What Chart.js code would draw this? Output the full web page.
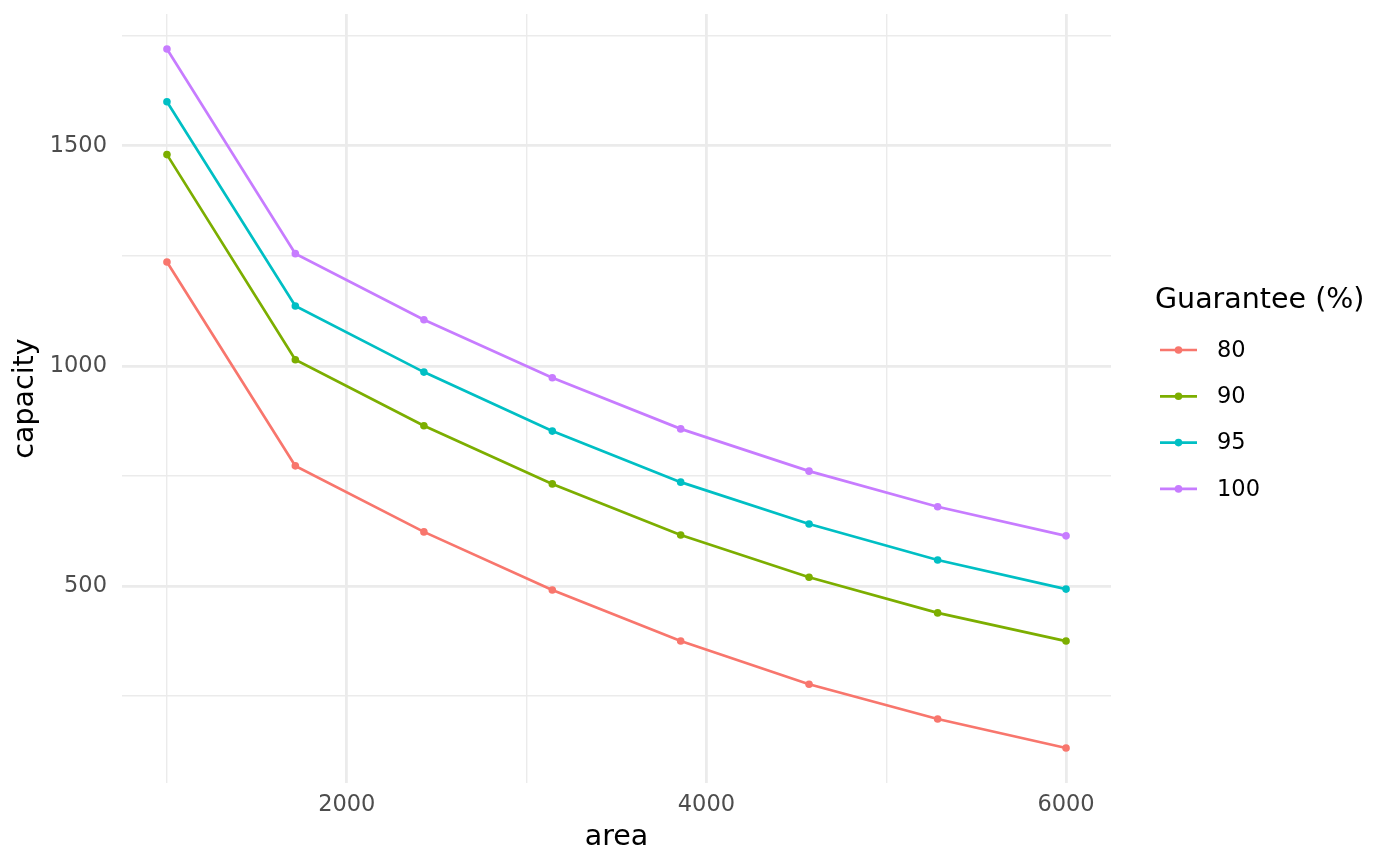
<!DOCTYPE html>
<html>
<head>
<meta charset="utf-8">
<script src="https://cdn.jsdelivr.net/npm/chart.js@4.4.1/dist/chart.umd.min.js"></script>
<style>
    html, body { margin: 0; padding: 0; background: #fff; }
    #chart { display: block; }
</style>
</head>
<body>
<canvas id="chart" width="1400" height="866"></canvas>
<script>
// --- Data ---
const area = [1000, 1714, 2429, 3143, 3857, 4571, 5286, 6000];
const cap80 = [1236, 773, 623, 491, 375, 277, 198, 132];
const cap90 = [1480, 1014, 864, 732, 616, 520, 439, 375];
const cap95 = [1600, 1136, 986, 852, 736, 641, 559, 493];
const cap100 = [1720, 1255, 1105, 973, 857, 761, 680, 614];

const seriesLabels = ['80', '90', '95', '100'];
const seriesColors = ['#F8766D', '#7CAE00', '#00BFC4', '#C77CFF'];

// Grid positions (major ones get a label)
const xTicks = [1000, 2000, 3000, 4000, 5000, 6000];
const xLabels = [2000, 4000, 6000];
const yTicks = [250, 500, 750, 1000, 1250, 1500, 1750];
const yLabels = [500, 1000, 1500];

const FONT = "'DejaVu Sans', sans-serif";
const GRID = '#EBEBEB';
const TICK_SIZE = 22.5;
const TITLE_SIZE = 28.5;

// ggplot-style 5% expansion
const expand = (lo, hi) => {
    const pad = (hi - lo) * 0.05;
    return [lo - pad, hi + pad];
};
const allY = [...cap80, ...cap90, ...cap95, ...cap100];
const [yMin, yMax] = expand(Math.min(...allY), Math.max(...allY));
const [xMin, xMax] = expand(Math.min(...area), Math.max(...area));

const makeSet = (label, values, color) => ({
    label: label,
    data: area.map((a, i) => ({ x: a, y: values[i] })),
    borderColor: color,
    backgroundColor: color,
    borderWidth: 2.7,
    pointRadius: 3.8,
    pointBorderWidth: 0,
    pointBackgroundColor: color,
    tension: 0,
    fill: false
});

// Legend drawn by hand, ggplot style
const sideLegend = {
    id: 'sideLegend',
    afterDraw(chart) {
        const c = chart.ctx;
        c.save();
        c.fillStyle = '#000';
        c.textBaseline = 'middle';
        c.textAlign = 'left';
        c.font = `${TITLE_SIZE}px ${FONT}`;
        c.fillText('Guarantee (%)', 1155, 301);
        c.font = `${TICK_SIZE}px ${FONT}`;
        chart.data.datasets.forEach((ds, i) => {
            const y = 350 + i * 46.3;
            c.strokeStyle = ds.borderColor;
            c.lineWidth = 2.7;
            c.beginPath();
            c.moveTo(1160, y);
            c.lineTo(1197, y);
            c.stroke();
            c.fillStyle = ds.borderColor;
            c.beginPath();
            c.arc(1178.5, y, 3.8, 0, Math.PI * 2);
            c.fill();
            c.fillStyle = '#000';
            c.fillText(ds.label, 1217, y + 1);
        });
        c.restore();
    }
};

new Chart(document.getElementById('chart'), {
    type: 'line',
    data: {
        datasets: [
            makeSet(seriesLabels[0], cap80, seriesColors[0]),
            makeSet(seriesLabels[1], cap90, seriesColors[1]),
            makeSet(seriesLabels[2], cap95, seriesColors[2]),
            makeSet(seriesLabels[3], cap100, seriesColors[3])
        ]
    },
    options: {
        responsive: false,
        animation: false,
        devicePixelRatio: 1,
        layout: { padding: { top: 14, right: 289, bottom: 0, left: 0 } },
        plugins: {
            legend: { display: false },
            tooltip: { enabled: false }
        },
        scales: {
            x: {
                type: 'linear',
                min: xMin,
                max: xMax,
                afterBuildTicks: (s) => { s.ticks = xTicks.map(v => ({ value: v })); },
                afterFit: (s) => {
                    s.height = 83;
                    s.paddingLeft = 0;
                    s.paddingRight = 0;
                },
                border: { display: false },
                grid: {
                    drawTicks: false,
                    color: GRID,
                    lineWidth: (ctx) => xLabels.includes(ctx.tick.value) ? 2.8 : 1.4
                },
                ticks: {
                    padding: 9,
                    maxRotation: 0,
                    color: '#4D4D4D',
                    font: { family: FONT, size: TICK_SIZE },
                    callback: (v) => xLabels.includes(v) ? String(v) : ''
                },
                title: {
                    display: true,
                    text: 'area',
                    color: '#000',
                    font: { family: FONT, size: TITLE_SIZE },
                    padding: { top: 0, bottom: 11 }
                }
            },
            y: {
                min: yMin,
                max: yMax,
                afterBuildTicks: (s) => { s.ticks = yTicks.map(v => ({ value: v })); },
                afterFit: (s) => {
                    s.width = 122;
                    s.paddingTop = 0;
                    s.paddingBottom = 0;
                },
                border: { display: false },
                grid: {
                    drawTicks: false,
                    color: GRID,
                    lineWidth: (ctx) => yLabels.includes(ctx.tick.value) ? 2.8 : 1.4
                },
                ticks: {
                    padding: 15,
                    color: '#4D4D4D',
                    font: { family: FONT, size: TICK_SIZE },
                    callback: (v) => yLabels.includes(v) ? String(v) : ''
                },
                title: {
                    display: true,
                    text: 'capacity',
                    color: '#000',
                    font: { family: FONT, size: TITLE_SIZE },
                    padding: { top: 8, bottom: 0 }
                }
            }
        }
    },
    plugins: [sideLegend]
});
</script>
</body>
</html>
